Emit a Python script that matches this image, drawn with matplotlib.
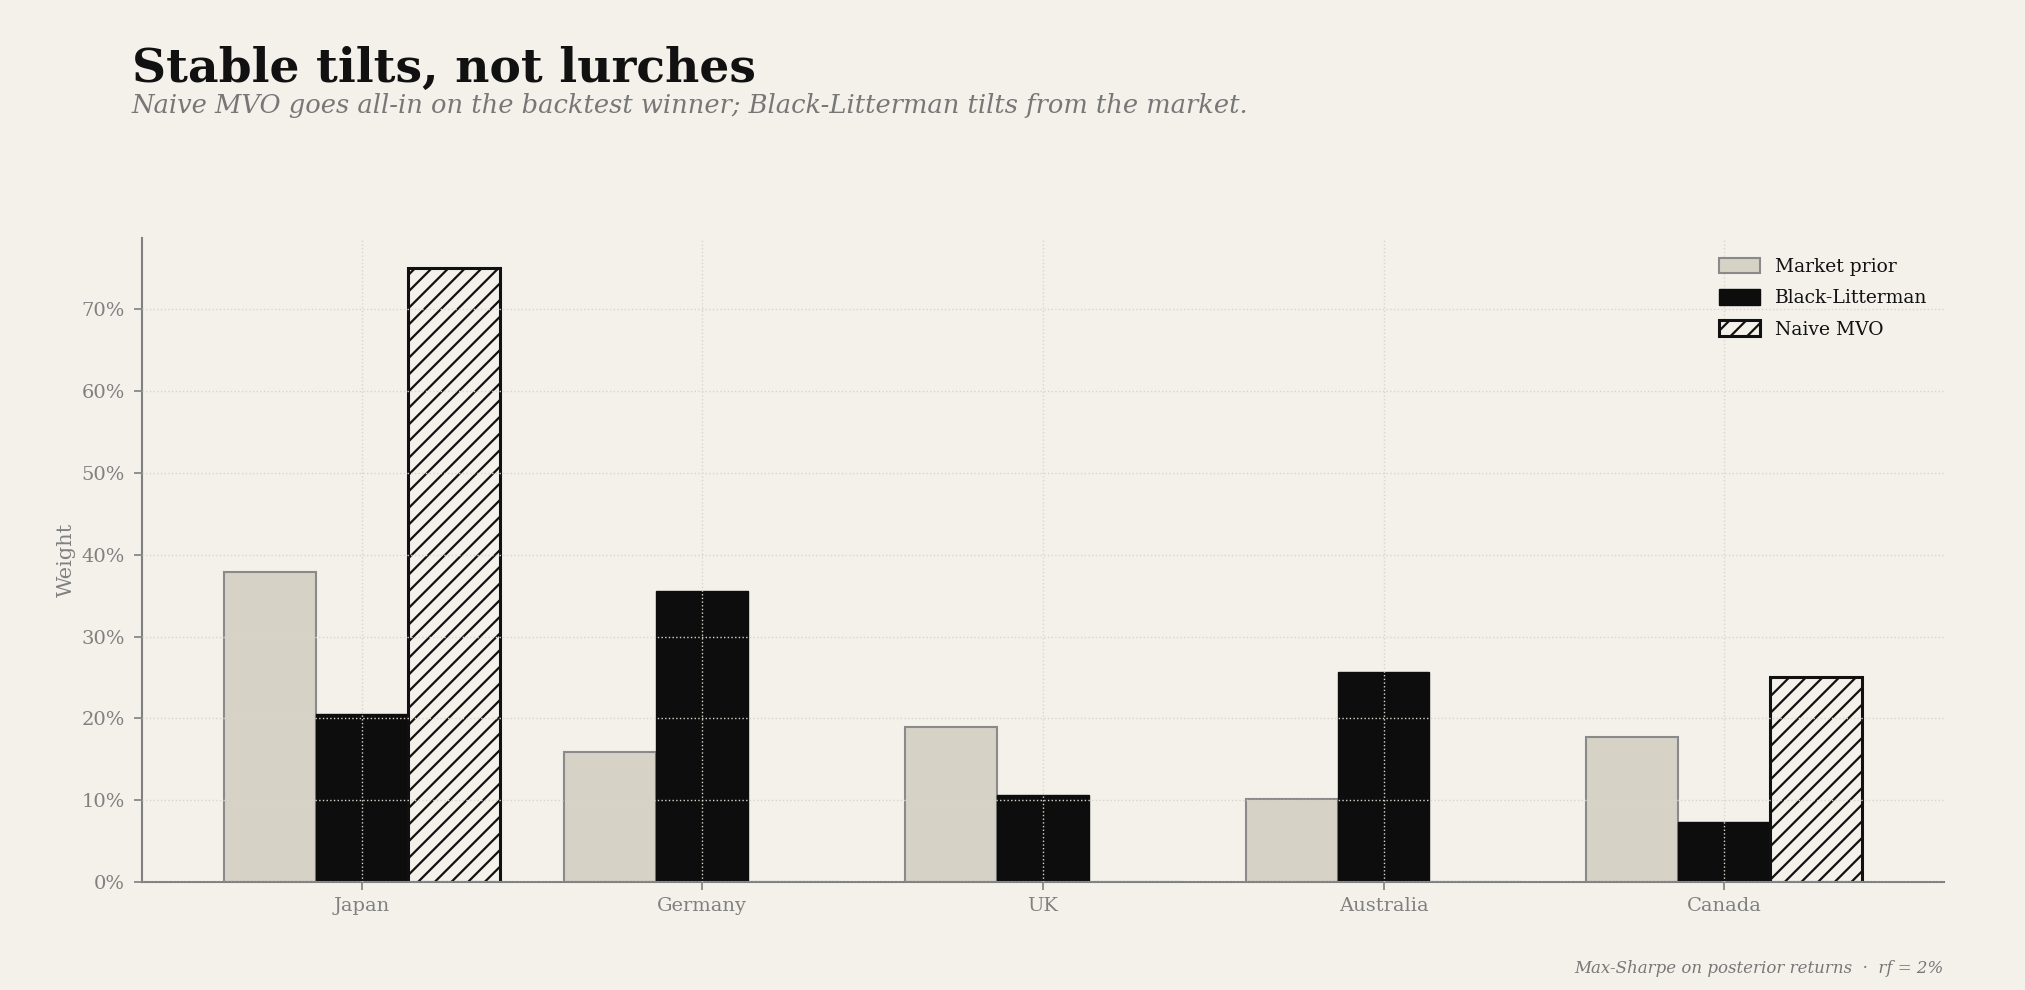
import matplotlib
matplotlib.use("Agg")
import matplotlib.pyplot as plt
import numpy as np
from matplotlib.ticker import PercentFormatter

# data
countries = ["Japan", "Germany", "UK", "Australia", "Canada"]
market_prior = [0.379, 0.159, 0.189, 0.101, 0.177]
black_litterman = [0.205, 0.356, 0.107, 0.257, 0.074]
naive_mvo = [0.750, 0.0, 0.0, 0.0, 0.250]

BG = "#f3f1ea"
INK = "#0d0d0d"
GREY = "#808080"

plt.rcParams["font.family"] = ["DejaVu Serif"]
plt.rcParams["hatch.linewidth"] = 1.6

fig = plt.figure(figsize=(20.25, 9.9), dpi=100, facecolor=BG)
ax = fig.add_axes([0.070, 0.109, 0.890, 0.651], facecolor=BG)

x = np.arange(len(countries))
w = 0.27

ax.bar(x - w, market_prior, w, color="#d6d2c6", edgecolor="#8a8a8a",
       linewidth=1.5, label="Market prior", zorder=2)
ax.bar(x, black_litterman, w, color=INK, edgecolor=INK,
       linewidth=1.0, label="Black-Litterman", zorder=2)
ax.bar(x + w, naive_mvo, w, color=BG, edgecolor="#111111", hatch="//",
       linewidth=2.2, label="Naive MVO", zorder=2)

ax.set_ylim(0, max(naive_mvo) * 1.05)
ax.yaxis.set_major_formatter(PercentFormatter(1.0, decimals=0))
ax.set_yticks(np.arange(0, 0.71, 0.1))
ax.set_xticks(x)
ax.set_xticklabels(countries)

ax.grid(True, color="#d9d5cb", linestyle=":", linewidth=1.0, zorder=3)
ax.set_axisbelow(False)

for s in ["top", "right"]:
    ax.spines[s].set_visible(False)
for s in ["left", "bottom"]:
    ax.spines[s].set_color(GREY)
    ax.spines[s].set_linewidth(1.5)
ax.tick_params(colors=GREY, labelsize=14, length=6, width=1.2, pad=6)
ax.tick_params(axis="x", pad=5)
ax.set_ylabel("Weight", color=GREY, fontsize=15, labelpad=4)

leg = ax.legend(loc="upper right", frameon=False, fontsize=13.5,
                handlelength=2.2, handleheight=0.9, labelspacing=0.7,
                bbox_to_anchor=(1.0, 0.995))
for t in leg.get_texts():
    t.set_color("#111111")

fig.text(0.065, 0.930, "Stable tilts, not lurches", fontsize=34,
         fontweight="bold", color="#111111", va="center", ha="left")
fig.text(0.065, 0.893, "Naive MVO goes all-in on the backtest winner; "
         "Black-Litterman tilts from the market.", fontsize=18.5,
         style="italic", color="#777777", va="center", ha="left")
fig.text(0.960, 0.022, "Max-Sharpe on posterior returns  \u00b7  rf = 2%",
         fontsize=12, style="italic", color="#777777", ha="right", va="center")

fig.savefig("out.png", dpi=100, facecolor=BG)
